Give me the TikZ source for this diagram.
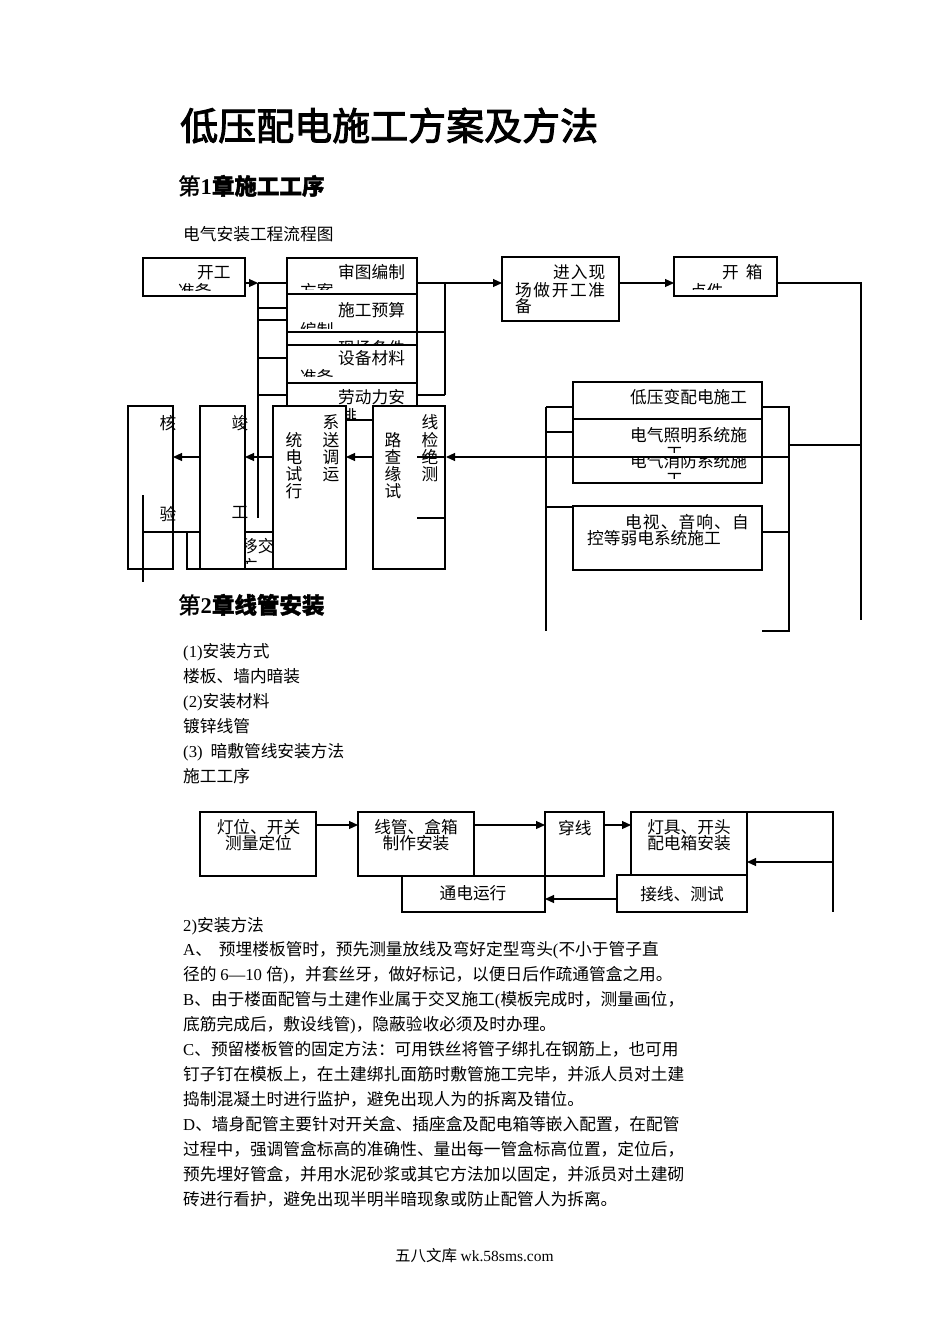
\documentclass[tikz,border=0pt]{standalone}
\usepackage{fontspec}
\setmainfont{Liberation Serif}
\newfontfamily\cjkfont{Noto Sans CJK SC}
\newfontfamily\cjkboldfont[FakeBold=2.5]{Noto Sans CJK SC}
\newfontfamily\cjksemibold[FakeBold=1.6]{Noto Sans CJK SC}
\usetikzlibrary{arrows.meta}
\newif\ifcjkbold
\newif\ifcjksemi
\newcommand\cjksw{\ifcjkbold\ifcjksemi\cjksemibold\else\cjkboldfont\fi\else\cjkfont\fi}
\newcommand\latsw{\ifcjkbold\rmfamily\bfseries\else\rmfamily\fi}
\newcommand\cjkgap{}
\newXeTeXintercharclass\mycjkclass
\makeatletter
\def\setcjkrange#1#2{\count@=#1\relax
  \loop\XeTeXcharclass\count@=\mycjkclass\relax
  \ifnum\count@<#2\relax\advance\count@ by 1\relax\repeat}
\setcjkrange{"3000}{"30FF}
\setcjkrange{"3400}{"4DBF}
\setcjkrange{"4E00}{"9FFF}
\setcjkrange{"FF00}{"FFEF}
\makeatother
\XeTeXinterchartoks 0 \mycjkclass = {\cjksw}
\XeTeXinterchartoks 4095 \mycjkclass = {\cjksw}
\XeTeXinterchartoks \mycjkclass 0 = {\latsw}
\XeTeXinterchartoks 4095 0 = {\latsw}
\XeTeXinterchartoks \mycjkclass \mycjkclass = {\cjkgap}
\newcounter{tn}
\newcommand\bx[5]{\node[bx, minimum width={(#4-#2)*1pt}, minimum height={(#5-#3)*1pt}] (#1) at (#2,#3) {};}
\newcommand\T[3]{\stepcounter{tn}\node[tx] (t\arabic{tn}) at (#1,#2+6.3) {#3};}
\newcommand\C[3]{\stepcounter{tn}\node[tc] (t\arabic{tn}) at (#1,#2+6.3) {#3};}
\tikzset{
  bx/.style={draw=black, fill=white, line width=1.1pt, inner sep=0pt, outer sep=0pt, anchor=north west},
  ln/.style={line width=1.1pt},
  ar/.style={line width=1.1pt, -{Triangle[length=9pt,width=8pt]}},
  tx/.style={inner sep=0pt, anchor=base west},
  tc/.style={inner sep=0pt, anchor=base},
  every node/.style={font=\fontsize{16.7}{20}\selectfont, text=black}
}
\begin{document}
\XeTeXinterchartokenstate=1
\begin{tikzpicture}[x=1pt,y=-1pt]
\fill[white] (0,0) rectangle (950,1344);
\useasboundingbox (0,0) rectangle (950,1344);
% headings
\node[tx, font=\fontsize{38}{44}\selectfont\cjkboldtrue] (title) at (180,140) {低压配电施工方案及方法};
\node[tx, font=\fontsize{22.5}{26}\selectfont\cjkboldtrue\cjksemitrue] (ch1) at (178,194.5) {第1章施工工序};
\T{183}{234}{电气安装工程流程图}
\node[tx, font=\fontsize{22.5}{26}\selectfont\cjkboldtrue\cjksemitrue] (ch2) at (178,613.5) {第2章线管安装};
\T{183}{651}{(1)安装方式}
\T{183}{676}{楼板、墙内暗装}
\T{183}{701}{(2)安装材料}
\T{183}{726}{镀锌线管}
\T{183}{751}{(3)\hspace{8pt}暗敷管线安装方法}
\T{183}{776}{施工工序}
\T{183}{925}{2)安装方法}
\T{183}{949}{A、\hspace{7pt}预埋楼板管时，预先测量放线及弯好定型弯头(不小于管子直}
\T{183}{974}{径的 6—10 倍)，并套丝牙，做好标记，以便日后作疏通管盒之用。}
\T{183}{999}{B、由于楼面配管与土建作业属于交叉施工(模板完成时，测量画位，}
\T{183}{1024}{底筋完成后，敷设线管)，隐蔽验收必须及时办理。}
\T{183}{1049}{C、预留楼板管的固定方法：可用铁丝将管子绑扎在钢筋上，也可用}
\T{183}{1074}{钉子钉在模板上，在土建绑扎面筋时敷管施工完毕，并派人员对土建}
\T{183}{1099}{捣制混凝土时进行监护，避免出现人为的拆离及错位。}
\T{183}{1124}{D、墙身配管主要针对开关盒、插座盒及配电箱等嵌入配置，在配管}
\T{183}{1149}{过程中，强调管盒标高的准确性、量出每一管盒标高位置，定位后，}
\T{183}{1174}{预先埋好管盒，并用水泥砂浆或其它方法加以固定，并派员对土建砌}
\T{183}{1199}{砖进行看护，避免出现半明半暗现象或防止配管人为拆离。}
\node[tx, font=\fontsize{15.5}{18}\selectfont] (foot) at (395,1261) {五八文库 wk.58sms.com};

% ===== flow chart 1 : boxes =====
\bx{kg}{143}{258}{245}{296}
\T{197}{272}{开工}
\begin{scope}\clip (143,258) rectangle (245,290);\T{178}{291}{准备}\end{scope}
\bx{st}{287}{258}{417}{294}
\T{338}{272}{审图编制}
\begin{scope}\clip (287,258) rectangle (417,289.5);\T{300}{291}{方案}\end{scope}
\bx{ys}{287}{294}{417}{332}
\T{338}{310}{施工预算}
\begin{scope}\clip (287,294) rectangle (417,328);\T{300}{330.5}{编制}\end{scope}
\bx{xc}{287}{332}{417}{383}
\begin{scope}\clip (287,332) rectangle (417,345);\T{338}{348}{现场条件}\end{scope}
\bx{sb}{287}{345}{417}{383}
\T{338}{358}{设备材料}
\begin{scope}\clip (287,345) rectangle (417,376);\T{300}{377}{准备}\end{scope}
\bx{ld}{287}{383}{417}{420}
\T{338}{397}{劳动力安}
\begin{scope}\clip (287,383) rectangle (417,418);\T{340}{416}{排}\end{scope}
\bx{jr}{502}{257}{619}{321}
{\def\cjkgap{\kern1pt}\T{553}{272}{进入现}}
{\def\cjkgap{\kern1.6pt}\T{515}{290}{场做开工准}}
\T{515}{306}{备}
\bx{kx}{674}{257}{777}{296}
\T{722}{272}{开\kern7pt 箱}
\begin{scope}\clip (674,257) rectangle (777,289.5);\T{690}{291}{点件}\end{scope}
\bx{dy}{573}{382}{762}{419}
\T{630}{397}{低压变配电施工}
\bx{zm}{573}{419}{762}{457}
\T{630}{435}{电气照明系统施}
\begin{scope}\clip (573,419) rectangle (762,452);\T{666}{453}{工}\end{scope}
\bx{xf}{573}{457}{762}{483}
\begin{scope}\clip (573,457) rectangle (762,478);\T{630}{461}{电气消防系统施}\T{666}{479}{工}\end{scope}
\bx{ds}{573}{506}{762}{570}
{\def\cjkgap{\kern1.1pt}\T{625}{522}{电视、音响、自}}
\T{587}{538}{控等弱电系统施工}
% bottom row
\bx{yj}{245}{532}{273}{569}
\begin{scope}\clip (245,532) rectangle (273,563);\T{241}{546}{移交}\T{241}{566}{方}\end{scope}
\bx{jg}{200}{406}{245}{569}
\C{240}{423}{竣}
\C{240}{512}{工}
\bx{hy}{128}{406}{173}{569}
\C{168}{423}{核}
\C{168}{514}{验}
\bx{xt}{273}{406}{346}{569}
\C{331}{422}{系}\C{331}{440}{送}\C{331}{457}{调}\C{331}{474}{运}
\C{294}{440}{统}\C{294}{457}{电}\C{294}{474}{试}\C{294}{491}{行}
\bx{xl}{373}{406}{445}{569}
\C{430}{422}{线}\C{430}{440}{检}\C{430}{457}{绝}\C{430}{474}{测}
\C{393}{440}{路}\C{393}{457}{查}\C{393}{474}{缘}\C{393}{491}{试}

% ===== flow chart 1 : connectors =====
\coordinate (a0) at (245,283);
\coordinate (v0) at (258,283);
\coordinate (v1) at (258,518);
\draw[ar] (a0) -- (v0);
\draw[ln] (v0) -- (v1);
\foreach \yy [count=\i] in {283,308,320,358,395} {
  \coordinate (bl\i) at (258,\yy); \coordinate (br\i) at (287,\yy);
  \draw[ln] (bl\i) -- (br\i);
}
\foreach \yy [count=\i] in {283,332,395} {
  \coordinate (sr\i) at (417,\yy); \coordinate (sv\i) at (445,\yy);
  \draw[ln] (sr\i) -- (sv\i);
}
\draw[ln] (sv1) -- (sv3);
\draw[ar] (sv1) -- (jr.west |- sv1);
\coordinate (jre) at (619,283);
\draw[ar] (jre) -- (kx.west |- jre);
\coordinate (kxe) at (777,283);
\coordinate (rc) at (861,283);
\coordinate (rcb) at (861,620);
\draw[ln] (kxe) -- (rc) -- (rcb);
% right bracket
\coordinate (rb1) at (789,407);
\coordinate (rb2) at (789,631);
\draw[ln] (dy.east |- rb1) -- (rb1) -- (rb2) -- (ds.east |- rb2);
\coordinate (rb3) at (789,532);
\draw[ln] (ds.east |- rb3) -- (rb3);
\coordinate (rb4) at (789,445);
\draw[ln] (rb4) -- (rc |- rb4);
% left bracket
\coordinate (lb1) at (546,407);
\coordinate (lb2) at (546,631);
\draw[ln] (lb1) -- (lb2);
\draw[ln] (lb1) -- (dy.west |- lb1);
\coordinate (lb3) at (546,432);
\draw[ln] (lb3) -- (dy.west |- lb3);
\coordinate (lb4) at (546,507);
\draw[ln] (lb4) -- (ds.west |- lb4);
% main return arrow
\coordinate (ra) at (789,457);
\coordinate (rt) at (446,457);
\coordinate (ri) at (417,457);
\draw[ln] (ri) -- (rt);
\draw[ar] (ra) -- (rt);
\draw[ar] (xl.west |- ra) -- (xt.east |- ra);
\draw[ar] (xt.west |- ra) -- (jg.east |- ra);
\draw[ar] (jg.west |- ra) -- (hy.east |- ra);
\coordinate (m1) at (417,518);
\draw[ln] (m1) -- (xl.east |- m1);
\coordinate (h1) at (143,495);
\coordinate (h2) at (143,582);
\draw[ln] (h1) -- (h2);
\coordinate (h3) at (143,532);
\coordinate (h4) at (187,532);
\coordinate (h5) at (187,569);
\draw[ln] (h3) -- (jg.west |- h3);
\draw[ln] (h4) -- (h5) -- (jg.west |- h5);

% ===== flow chart 2 =====
\bx{dw}{200}{812}{316}{876}
\C{258.5}{827}{灯位、开关}
\C{258.5}{843}{测量定位}
\bx{xg}{358}{812}{474}{876}
\C{416}{827}{线管、盒箱}
\C{416}{843}{制作安装}
\bx{cx}{545}{812}{604}{876}
\T{558}{828}{穿线}
\bx{dj}{631}{812}{747}{876}
\C{689}{827}{灯具、开头}
\C{689}{843}{配电箱安装}
\bx{td}{402}{876}{545}{912}
\C{473}{893}{通电运行}
\bx{jx}{617}{875}{747}{912}
\C{682}{894}{接线、测试}
\coordinate (f2) at (0,825);
\draw[ar] (dw.east |- f2) -- (xg.west |- f2);
\draw[ar] (xg.east |- f2) -- (cx.west |- f2);
\draw[ar] (cx.east |- f2) -- (dj.west |- f2);
\coordinate (lp1) at (833,812);
\coordinate (lp2) at (833,912);
\coordinate (lp3) at (833,862);
\draw[ln] (dj.north east) -- (lp1) -- (lp2);
\draw[ar] (lp3) -- (dj.east |- lp3);
\coordinate (f3) at (0,899);
\draw[ar] (jx.west |- f3) -- (cx.west |- f3);
\end{tikzpicture}
\end{document}
